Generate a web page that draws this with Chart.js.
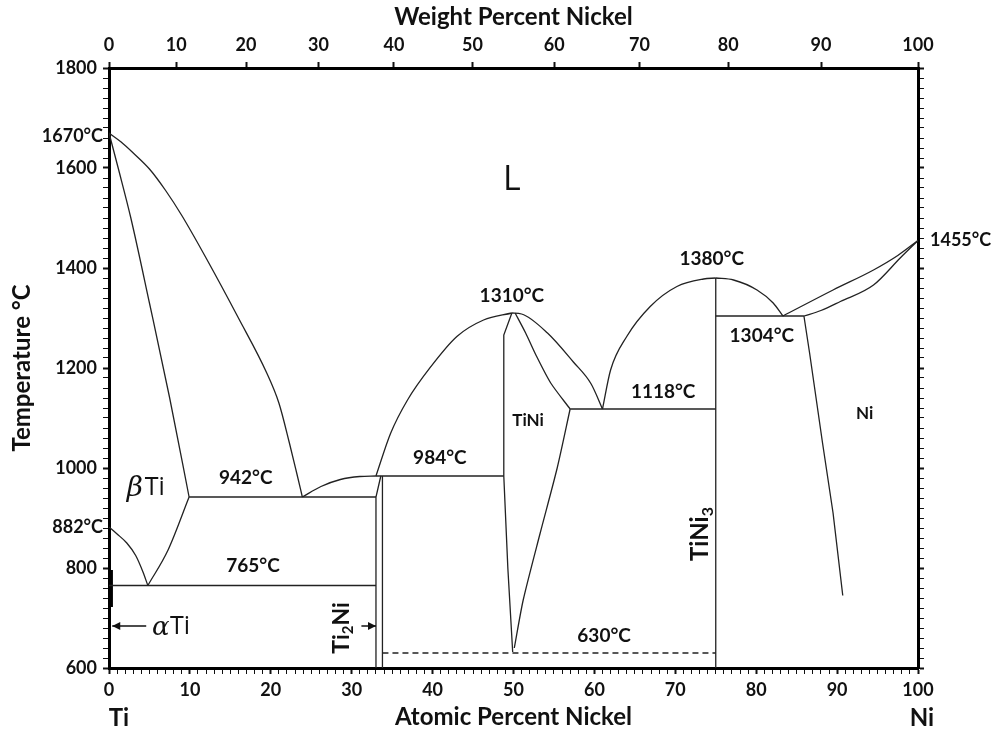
<!DOCTYPE html>
<html>
<head>
<meta charset="utf-8">
<title>Ti-Ni phase diagram</title>
<script src="https://cdn.jsdelivr.net/npm/chart.js@4.4.1/dist/chart.umd.min.js"></script>
<style>
  html, body { margin: 0; padding: 0; background: #fff; }
  #wrap { width: 1004px; height: 734px; }
</style>
</head>
<body>
<div id="wrap"><canvas id="phaseChart" width="1004" height="734"></canvas></div>
<script>
// phase boundaries, [atomic % Ni, temperature °C]
const tiLiquidus = [[0,1670],[1.5,1652],[3,1630],[5,1598],[7,1555],[9,1505],[12,1420],[16,1300],[19.5,1190],[21,1130],[22.3,1050],[23.2,990],[23.9,942]];
const tiSolidus = [[0,1670],[1.2,1596],[2.7,1500],[5,1330],[7.5,1140],[9.9,942]];
const transusLeft = [[0,882],[1,868],[2.2,850],[3.3,825],[4.2,792],[4.8,765]];
const transusRight = [[4.8,765],[7.3,836],[9.9,942]];
const eutecticLiq = [[23.9,942],[26.2,963],[28.6,977],[31,983],[33,984]];
const tiniLiqLeft = [[33,984],[34.8,1069],[36.9,1136],[39.8,1203],[43,1263],[46.3,1296],[49.8,1310]];
const tiniLiqRight = [[49.8,1310],[51,1308],[54.2,1270],[57.4,1212],[59.6,1168],[61,1118]];
const tiniSolRight = [[50.2,1310],[51.5,1270],[52.8,1225],[54.6,1170],[57,1118]];
const tiniRight = [[57,1118],[55.4,1000],[53.3,870],[51.2,736],[50.1,640]];
const tiNi3Liq = [[61,1118],[62,1196],[64,1263],[66.9,1323],[70.2,1363],[73.5,1378],[75,1380]];
const tiNi3Right = [[75,1380],[77.2,1376],[80.1,1356],[82.1,1330],[83.3,1304]];
const niLiquidus = [[83.3,1304],[89.5,1356],[94.5,1396],[97.5,1425],[100,1455]];
const niSolidus = [[85.9,1304],[88,1315],[90.4,1333],[94.5,1366],[97.8,1420],[100,1455]];
const niSolvus = [[85.9,1304],[86.6,1230],[88.2,1050],[89.5,910],[90.7,745]];

// straight lines: invariants and compounds
const tiniLeft = [[49.8,1310],[48.8,1266],[48.8,984],[49.3,800],[49.9,632]];
const line942 = [[9.9,942],[33,942]];
const line765 = [[0,765],[33,765]];
const line984 = [[33,984],[48.8,984]];
const line1118 = [[57,1118],[75,1118]];
const line1304 = [[75,1304],[85.9,1304]];
const ti2NiLeft = [[33,600],[33,942],[33.6,984]];
const ti2NiRight = [[33.8,600],[33.8,984]];
const tiNi3Line = [[75,600],[75,1380]];
const line630 = [[33.8,630],[75,630]];
const alphaTiEdge = [[0.3,796],[0.3,722]];

// top axis: weight % labels and where they fall in atomic %
const wtLabels = [0, 10, 20, 30, 40, 50, 60, 70, 80, 90, 100];
const wtAtPos = [0, 8.31, 16.94, 25.9, 35.22, 44.92, 55.03, 65.56, 76.54, 88.01, 100];

// curves with x rising along the line, and curves that bend back
const smoothCurves = [tiLiquidus, tiSolidus, transusLeft, transusRight, eutecticLiq, tiniLiqLeft,
  tiniLiqRight, tiNi3Liq, tiNi3Right, niLiquidus, niSolidus];
const bentCurves = [tiniSolRight, tiniRight];
const straights = [tiniLeft, niSolvus, line942, line765, line984, line1118, line1304, ti2NiLeft, ti2NiRight, tiNi3Line];

const toPts = arr => arr.map(p => ({ x: p[0], y: p[1] }));
const lineColor = '#222';

const datasets = [];
smoothCurves.forEach(c => datasets.push({ data: toPts(c), cubicInterpolationMode: 'monotone' }));
bentCurves.forEach(c => datasets.push({ data: toPts(c), tension: 0.25 }));
straights.forEach(c => datasets.push({ data: toPts(c), tension: 0 }));
datasets.push({ data: toPts(line630), tension: 0, borderDash: [6, 4] });
datasets.forEach(d => {
  d.showLine = true;
  d.pointRadius = 0;
  d.borderColor = lineColor;
  d.borderWidth = 1.3;
  d.xAxisID = 'x';
  d.yAxisID = 'y';
});
datasets.push({ data: toPts(alphaTiEdge), showLine: true, pointRadius: 0, borderColor: '#000', borderWidth: 3, xAxisID: 'x', yAxisID: 'y' });

Chart.defaults.font.family = 'Lato, "Open Sans", sans-serif';
Chart.defaults.color = '#111';

// text inside and around the diagram
const labelPlugin = {
  id: 'phaseLabels',
  afterDatasetsDraw(chart) {
    const ctx = chart.ctx;
    const xs = chart.scales.x, ys = chart.scales.y;
    const area = chart.chartArea;
    const px = v => xs.getPixelForValue(v);
    const py = v => ys.getPixelForValue(v);
    ctx.save();
    ctx.fillStyle = '#111';
    ctx.textBaseline = 'middle';

    const bold = size => 'bold ' + size + 'px Lato, "Open Sans", sans-serif';
    const put = (text, x, y, font, align) => {
      ctx.font = font;
      ctx.textAlign = align || 'center';
      ctx.fillText(text, x, y);
    };

    put('L', px(49.8), py(1576), '34px "Open Sans", sans-serif');
    put('1310°C', px(49.8), py(1344), bold(19));
    put('1380°C', px(74.5), py(1418), bold(19));
    put('1304°C', px(80.7), py(1264), bold(19));
    put('1118°C', px(68.5), py(1152), bold(19));
    put('984°C', px(40.9), py(1020), bold(19));
    put('942°C', px(16.9), py(980), bold(19));
    put('765°C', px(17.8), py(804), bold(19));
    put('630°C', px(61.2), py(664), bold(19));
    put('TiNi', px(51.8), py(1094), bold(17));
    put('Ni', px(93.4), py(1108), bold(17));

    // outside the frame
    put('1670°C', area.left - 6, py(1664), bold(18), 'right');
    put('882°C', area.left - 6, py(882), bold(18), 'right');
    put('1455°C', area.right + 12, py(1456), bold(18), 'left');
    put('Ti', area.left + 10, 718, bold(24));
    put('Ni', area.right + 4, 718, bold(24));

    // beta Ti
    ctx.font = 'italic 28px "DejaVu Serif", serif';
    ctx.textAlign = 'left';
    ctx.fillText('β', px(2.2), py(958));
    ctx.font = '25px "Open Sans", sans-serif';
    ctx.fillText('Ti', px(2.2) + 18, py(960));

    // alpha Ti with arrow
    ctx.font = 'italic 26px "DejaVu Serif", serif';
    ctx.fillText('α', px(5.3), py(680));
    ctx.font = '25px "Open Sans", sans-serif';
    ctx.fillText('Ti', px(5.3) + 18, py(682));
    const arrow = (x1, x2, y) => {
      ctx.strokeStyle = '#111';
      ctx.lineWidth = 1.5;
      ctx.beginPath();
      ctx.moveTo(x1, y);
      ctx.lineTo(x2, y);
      ctx.stroke();
      const dir = x2 > x1 ? 1 : -1;
      ctx.beginPath();
      ctx.moveTo(x2, y);
      ctx.lineTo(x2 - dir * 8, y - 4);
      ctx.lineTo(x2 - dir * 8, y + 4);
      ctx.closePath();
      ctx.fill();
    };
    arrow(px(4.6), px(0.4), py(684));
    arrow(px(31.2), px(33), py(684));

    // rotated compound names with subscripts
    const vertical = (x, y, parts) => {
      ctx.save();
      ctx.translate(x, y);
      ctx.rotate(-Math.PI / 2);
      let w = 0;
      parts.forEach(p => { ctx.font = bold(p[1]); w += ctx.measureText(p[0]).width; });
      let cx = -w / 2;
      ctx.textAlign = 'left';
      parts.forEach(p => {
        ctx.font = bold(p[1]);
        ctx.fillText(p[0], cx, p[2]);
        cx += ctx.measureText(p[0]).width;
      });
      ctx.restore();
    };
    vertical(px(73.1), py(868), [['TiNi', 24, 0], ['3', 16, 7]]);
    vertical(px(28.7), py(680), [['Ti', 23, 0], ['2', 15, 7], ['Ni', 23, 0]]);
    ctx.restore();
  }
};

const tickFont = { size: 18, weight: 'bold' };
const titleFont = { size: 24, weight: 'bold' };

new Chart(document.getElementById('phaseChart').getContext('2d'), {
  type: 'scatter',
  data: { datasets: datasets },
  options: {
    responsive: false,
    animation: false,
    layout: { padding: 0 },
    plugins: { legend: { display: false }, tooltip: { enabled: false } },
    scales: {
      x: {
        type: 'linear', position: 'bottom', min: 0, max: 100,
        ticks: {
          stepSize: 1, autoSkip: false, maxRotation: 0, padding: 5, font: tickFont, color: '#111',
          callback: v => (v % 10 === 0 ? v : '')
        },
        grid: {
          drawOnChartArea: false, tickLength: 6, tickColor: '#111',
          tickWidth: c => (c.tick && c.tick.value % 10 === 0 ? 2 : 1)
        },
        border: { width: 3, color: '#000' },
        title: { display: true, text: 'Atomic Percent Nickel', font: titleFont, color: '#111', padding: { top: 0, bottom: 2 } },
        afterFit: s => { s.height = 66; }
      },
      x2: {
        type: 'linear', position: 'top', min: 0, max: 100,
        afterBuildTicks: s => { s.ticks = wtAtPos.map(v => ({ value: v })); },
        ticks: {
          autoSkip: false, maxRotation: 0, padding: 6, font: tickFont, color: '#111',
          callback: (v, i) => wtLabels[i]
        },
        grid: { drawOnChartArea: false, tickLength: 6, tickColor: '#111', tickWidth: 2 },
        border: { width: 3, color: '#000' },
        title: { display: true, text: 'Weight Percent Nickel', font: titleFont, color: '#111', padding: { top: 3, bottom: 0 } },
        afterFit: s => { s.height = 68; }
      },
      y: {
        type: 'linear', position: 'left', min: 600, max: 1800,
        ticks: {
          stepSize: 20, autoSkip: false, padding: 6, font: tickFont, color: '#111',
          callback: v => (v % 200 === 0 ? v : '')
        },
        grid: {
          drawOnChartArea: false, tickLength: 6, tickColor: '#111',
          tickWidth: c => (c.tick && c.tick.value % 200 === 0 ? 2 : 1)
        },
        border: { width: 3, color: '#000' },
        title: { display: true, text: 'Temperature °C', font: titleFont, color: '#111', padding: { top: 8, bottom: 0 } },
        afterFit: s => { s.width = 109; }
      },
      y2: {
        type: 'linear', position: 'right', min: 600, max: 1800,
        ticks: { stepSize: 20, autoSkip: false, callback: () => '' },
        grid: {
          drawOnChartArea: false, tickLength: 6, tickColor: '#111',
          tickWidth: c => (c.tick && c.tick.value % 200 === 0 ? 2 : 1)
        },
        border: { width: 3, color: '#000' },
        afterFit: s => { s.width = 86; }
      }
    }
  },
  plugins: [labelPlugin]
});
</script>
</body>
</html>
